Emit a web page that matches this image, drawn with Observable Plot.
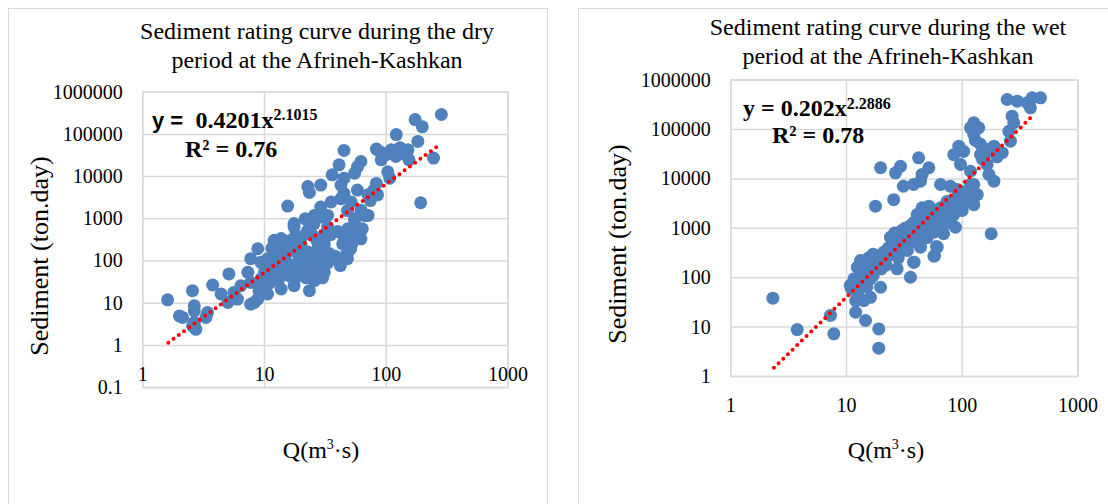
<!DOCTYPE html>
<html><head><meta charset="utf-8">
<script src="https://cdn.jsdelivr.net/npm/d3@7"></script>
<script src="https://cdn.jsdelivr.net/npm/@observablehq/plot@0.6"></script>
<style>
body{margin:0;background:#fff;font-family:"Liberation Serif","Times New Roman",serif;color:#000;}
#wrap{position:relative;width:1108px;height:504px;overflow:hidden;background:#fff;}
.panel{position:absolute;border:1px solid #d9d9d9;box-sizing:border-box;}
.t{position:absolute;white-space:pre;line-height:1;font-family:"Liberation Serif","Times New Roman",serif;}
.title{font-size:24px;line-height:28.5px;text-align:center;transform:translateX(-50%);}
.eq{font-weight:bold;font-size:24px;}
.eq sup{font-size:16px;vertical-align:8px;line-height:0;}
.sans{font-family:"Liberation Sans",Arial,sans-serif;font-size:22px;}
.ax{font-size:24px;}
.ax sup{font-size:14px;vertical-align:9px;line-height:0;}
.ylab{font-size:26px;}
.rot{transform:translate(-50%,-50%) rotate(-90deg);}
.ctr{transform:translate(-50%,-50%);}
.plot{position:absolute;top:0;}
</style></head>
<body><div id="wrap">
<div class="panel" style="left:8px;top:8px;width:540px;height:520px"></div>
<div class="panel" style="left:578px;top:8px;width:560px;height:520px"></div>
<div id="p1" class="plot" style="left:0px"></div>
<div id="p2" class="plot" style="left:579px"></div>
<div class="t title" style="left:317px;top:17px">Sediment rating curve during the dry
period at the Afrineh-Kashkan</div>
<div class="t title" style="left:888px;top:13px">Sediment rating curve during the wet
period at the Afrineh-Kashkan</div>
<div class="t eq" style="left:152px;top:108px"><span class="sans">y =  </span>0.4201x<sup>2.1015</sup></div>
<div class="t eq" style="left:185px;top:136.5px">R² = 0.76</div>
<div class="t eq" style="left:743px;top:95.5px">y = 0.202x<sup style="vertical-align:7px">2.2886</sup></div>
<div class="t eq" style="left:772px;top:123px">R² = 0.78</div>
<div class="t ylab rot" style="left:40px;top:256px">Sediment (ton.day)</div>
<div class="t ylab rot" style="left:618px;top:244px">Sediment (ton.day)</div>
<div class="t ax ctr" style="left:321px;top:450px">Q(m<sup>3</sup>·s)</div>
<div class="t ax ctr" style="left:886px;top:450px">Q(m<sup>3</sup>·s)</div>
</div>
<script>
const xTicks = [1, 10, 100, 1000];
const dryYTicks = [0.1, 1, 10, 100, 1000, 10000, 100000, 1000000];
const wetYTicks = [1, 10, 100, 1000, 10000, 100000, 1000000];

// [Q, Sediment]
const dryPoints = [
[284,296000],[173,225000],[198,151000],[121,99000],[182,68000],[245,27500],[192,2400],[45,41700],[83,45000],[90,38000],
[100,33000],[110,43000],[120,30000],[151,43000],[154,25000],[91,25000],[103,13000],[107,9200],[62,22800],[58,17000],
[55,12000],[41,19000],[36,11000],[45,9200],[29,6300],[22.7,5800],[23.4,4200],[42.5,6300],[45,4000],[58,4800],
[71,3700],[83,6900],[85,3700],[15.5,2000],[17.5,775],[29,1900],[35.3,2500],[42.5,3000],[51.5,2500],[62,1600],
[71,1200],[25.7,1200],[33,1200],[55,1000],[135,35000],[130,48000],[79,4700],[74,2700],[48,1570],[25.5,760],[21.6,1000],
[17.5,640],[24,925],[29,1100],[55,925],[66,1200],[22.7,535],[33,640],[48.5,585],[58,585],[12,310],
[13.7,340],[8.8,195],[7.7,113],[9.35,93],[10.6,113],[12.8,135],[15.5,163],[20,235],[22.7,163],[27.4,195],
[31,250],[48.5,163],[55,340],[31,54],[25.7,34],[23.4,19.8],[17.5,26],[13.7,21.7],[10.6,16.5],[8.25,10.4],
[8.8,12.5],[7.3,54],[7.7,31],[9.35,37.6],[12,45],[15.5,65],[18.8,93],[5.1,49.5],[3.75,27],[4.4,16.5],
[5.6,18],[6.4,26],[6,12.5],[5,10.4],[7.7,9.5],[2.56,19.8],[1.6,12],[2.0,5],[2.12,4.6],[2.65,8.7],
[2.65,6.6],[2.65,3.5],[2.73,2.4],[2.56,2.9],[3.4,6],[3.3,4.6],[42,78],[48,113],[51,195],[62,336],
[63.6,580],[69,1200],[14,250],[16,300],[18,400],[20,350],[22,450],[25,400],[27,300],[30,350],
[32,450],[35,420],[40,500],[44,450],[16,180],[19,140],[21,120],[24,110],[26,90],[28,130],
[30,170],[34,150],[38,130],[44,250],[13,90],[15,100],[17,75],[19,60],[21,80],[23,70],
[26,60],[29,75],[33,90],[36,110],[11,70],[12,60],[14,50],[16,45],[18,40],[20,50],
[22,40],[10,55],[11,30],[13,35],[9,20],[10,25],[28,45],[30,40],[45,300],[50,400],
[52,250],[47,140],[11.5,200],[13,250],[15,280],[17,220],[12,150],[14,180]
];

// [Q, Sediment]
const wetPoints = [
[245,405000],[299,374000],[365,347000],[403,438000],[475,438000],[389,275000],[270,186000],[279,137000],[253,92000],[261,58000],
[126,137000],[118,108000],[139,108000],[126,79000],[144,50000],[188,46000],[222,34000],[170,36000],[93.5,46000],[103,36000],
[84.6,31000],[144,31000],[164,19600],[118,14300],[170,12300],[188,9000],[42,26700],[19.7,16800],[29.3,18000],[26.5,13300],
[51.5,16800],[45,12300],[43.6,9000],[38,7700],[31,7100],[65,7700],[79,7100],[90.6,6100],[126,7700],[135,4800],
[25.6,3800],[17.8,2800],[45,2600],[51.5,2800],[40.8,1900],[49.8,1760],[65,2600],[74,3500],[90.6,4100],[118,4100],
[126,3000],[96.7,2600],[84.6,1900],[74,1400],[43.6,1680],[53,1330],[65,1550],[79,1450],[87.5,1050],[69,775],
[57,835],[46.6,900],[38,835],[33.5,715],[24,660],[25.6,414],[29.3,450],[33.6,355],[43.6,414],[60.8,414],
[57,272],[38,206],[27.4,151],[35.7,102],[178,775],[13.2,223],[15.1,177],[12.4,163],[17.2,140],[19.7,206],
[21,328],[11.6,95],[10.8,70],[13.2,81],[16.1,95],[19.7,64],[12.4,47],[12,34.5],[14.1,34.5],[16.1,40],
[12,20],[14.6,13.6],[19,9.2],[19,3.74],[7.77,7.3],[7.27,17.2],[3.75,8.9],[2.31,38.5],[57.6,281],[60,427],
[38.4,206],[96.7,19600],[118,7700],[14,120],[15.5,250],[17,300],[18,200],[20,150],[22,250],[23,400],
[25,300],[27,550],[30,600],[32,1000],[35,1100],[38,1300],[40,1000],[42,1200],[45,1400],[48,1100],
[50,2000],[55,2100],[58,1800],[62,2200],[68,2400],[72,1800],[78,2200],[85,2800],[95,3200],[100,2300],
[105,4000],[110,3500],[115,5000],[100,5500],[11,60],[11.5,80],[13,60],[14,90],[15,65],[17,110],
[16,130],[22,180],[28,250],[31,380],[35,500],[40,600],[45,700],[50,650],[55,950],[62,1000],
[70,1200],[30,900],[26,800],[150,25000],[160,40000],[130,60000],[200,28000]
];

// trend line end points
const dryTrendQ = [1.62, 278];
const dryTrendS = [1.16, 58000];
const wetTrendQ = [2.36, 416];
const wetTrendS = [1.5, 200000];

const dotColor = "#4f81bd";
const gridColor = "#d9d9d9";
const fmt = d => String(d);

function panel({points, tq, ts, yTicks, yDomain, width, mL, mR, mT, mB, xPad}) {
  const pts = points.map(([q, s]) => ({q, s}));
  const trend = tq.map((q, i) => ({q, s: ts[i]}));
  return Plot.plot({
    width, height: 480,
    marginLeft: mL, marginRight: mR, marginTop: mT, marginBottom: mB,
    x: {type: "log", domain: [1, 1000]},
    y: {type: "log", domain: yDomain},
    style: {fontFamily: "Liberation Serif, Times New Roman, serif", fontSize: "20px", background: "transparent", color: "#000", overflow: "visible"},
    marks: [
      Plot.gridX(xTicks, {stroke: gridColor, strokeOpacity: 1, strokeWidth: 1.5}),
      Plot.gridY(yTicks, {stroke: gridColor, strokeOpacity: 1, strokeWidth: 1.5}),
      Plot.frame({stroke: gridColor, strokeWidth: 1.5}),
      Plot.axisY(yTicks, {tickSize: 0, tickPadding: 20, tickFormat: fmt, label: null, fontSize: 20, fontFamily: "Liberation Serif"}),
      Plot.axisX(xTicks, {tickSize: 0, tickPadding: xPad, tickFormat: fmt, label: null, fontSize: 20, fontFamily: "Liberation Serif"}),
      Plot.dot(pts, {x: "q", y: "s", r: 6.5, fill: dotColor, stroke: "none"}),
      Plot.line(trend, {x: "q", y: "s", stroke: "#ff0000", strokeWidth: 4, strokeDasharray: "0,6.5", strokeLinecap: "round"})
    ]
  });
}

document.getElementById("p1").append(panel({
  points: dryPoints, tq: dryTrendQ, ts: dryTrendS, yTicks: dryYTicks, yDomain: [0.1, 1e6],
  width: 546, mL: 142.3, mR: 38.6, mT: 91.7, mB: 92.9, xPad: -21
}));
document.getElementById("p2").append(panel({
  points: wetPoints, tq: wetTrendQ, ts: wetTrendS, yTicks: wetYTicks, yDomain: [1, 1e6],
  width: 529, mL: 151.3, mR: 30.6, mT: 79.6, mB: 104, xPad: 21
}));
</script>
</body></html>
